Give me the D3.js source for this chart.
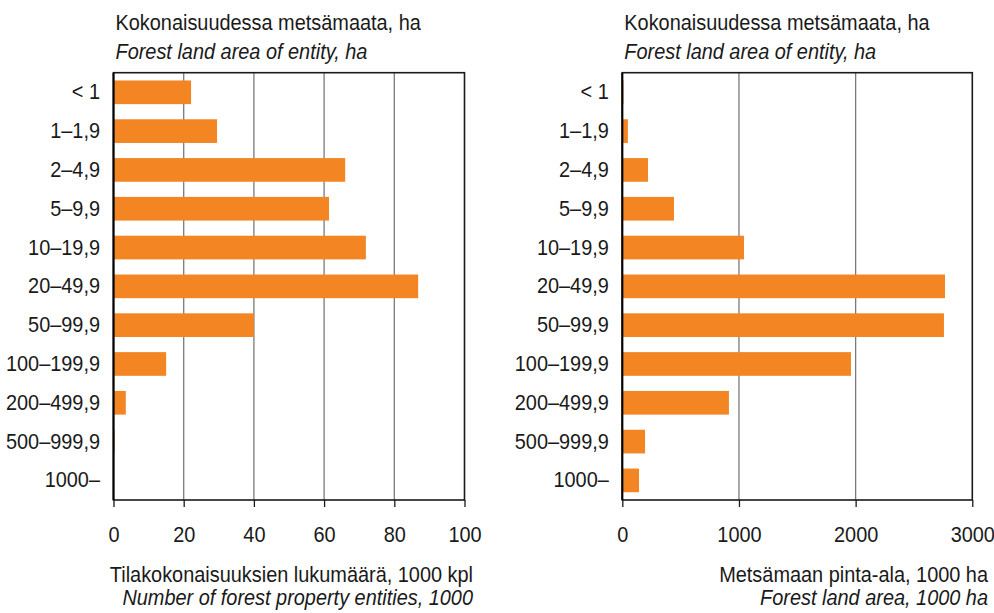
<!DOCTYPE html>
<html>
<head>
<meta charset="utf-8">
<script src="https://cdn.jsdelivr.net/npm/d3@7"></script>
<style>
  body { margin: 0; background: #fff; }
  svg { display: block; }
  text { font-family: "Liberation Sans", Arial, sans-serif; fill: #1a1a1a; }
</style>
</head>
<body>
<div id="chart"></div>
<script>
// Size classes (ha), top to bottom
const classes = ["< 1", "1–1,9", "2–4,9", "5–9,9", "10–19,9", "20–49,9",
                 "50–99,9", "100–199,9", "200–499,9", "500–999,9", "1000–"];

// Number of forest property entities, 1000
const entityCounts = [22.1, 29.5, 66.0, 61.4, 71.9, 86.8, 40.0, 15.0, 3.5, 0.3, 0.08];
// Forest land area, 1000 ha
const forestArea = [10, 48, 220, 443, 1043, 2766, 2757, 1960, 914, 195, 143];

const countTicks = [0, 20, 40, 60, 80, 100];
const areaTicks = [0, 1000, 2000, 3000];

const catTitle = ["Kokonaisuudessa metsämaata, ha", "Forest land area of entity, ha"];
const countTitle = ["Tilakokonaisuuksien lukumäärä, 1000 kpl", "Number of forest property entities, 1000"];
const areaTitle = ["Metsämaan pinta-ala, 1000 ha", "Forest land area, 1000 ha"];

const W = 994, H = 613;
const BAR = "#f38523";
const FS = "22px";   // the original type is a bit taller and narrower than Arial
const SX = 0.905;    // horizontal squeeze to match it

const svg = d3.select("#chart").append("svg")
    .attr("width", W)
    .attr("height", H);

// text placed at (x, y), squeezed horizontally around its anchor
function label(parent, x, y, str, anchor, italic) {
    return parent.append("g")
        .attr("transform", `translate(${x},${y}) scale(${SX},1)`)
        .append("text")
        .attr("text-anchor", anchor || "start")
        .style("font-size", FS)
        .style("font-style", italic ? "italic" : "normal")
        .text(str);
}

function drawPanel(opts) {
    const top = 72.7, bottom = 500;
    const x = d3.scaleLinear()
        .domain([0, opts.ticks[opts.ticks.length - 1]])
        .range([opts.left, opts.right]);
    const y = d3.scaleBand()
        .domain(classes)
        .range([top, bottom])
        .paddingInner(0.39)
        .paddingOuter(0.2);

    const g = svg.append("g");

    // heading above the category labels
    label(g, opts.left + 2, 30, catTitle[0]);
    label(g, opts.left + 2, 59, catTitle[1], "start", true);

    // vertical gridlines
    g.selectAll(".grid")
        .data(opts.ticks.slice(1, -1))
        .join("line")
        .attr("class", "grid")
        .attr("x1", d => x(d)).attr("x2", d => x(d))
        .attr("y1", top).attr("y2", bottom)
        .attr("stroke", "#7a7a7a")
        .attr("stroke-width", 1.3);

    // bars
    g.selectAll(".bar")
        .data(opts.values)
        .join("rect")
        .attr("class", "bar")
        .attr("x", x(0))
        .attr("y", (d, i) => y(classes[i]))
        .attr("width", d => x(d) - x(0))
        .attr("height", y.bandwidth())
        .attr("fill", BAR);

    // frame
    g.append("rect")
        .attr("x", x.range()[0]).attr("y", top)
        .attr("width", x.range()[1] - x.range()[0])
        .attr("height", bottom - top)
        .attr("fill", "none")
        .attr("stroke", "#1a1a1a")
        .attr("stroke-width", 1.6);
    g.append("line")
        .attr("x1", x(0)).attr("x2", x(0))
        .attr("y1", top).attr("y2", bottom)
        .attr("stroke", "#000")
        .attr("stroke-width", 2);

    // category axis
    const yAxis = g.append("g")
        .attr("transform", `translate(${x(0)},0)`)
        .call(d3.axisLeft(y).tickSize(0).tickPadding(13.5 / SX));
    yAxis.select(".domain").remove();
    yAxis.selectAll("text")
        .style("font-size", FS)
        .attr("transform", `scale(${SX},1)`)
        .attr("fill", "#1a1a1a");

    // value axis
    const xAxis = g.append("g")
        .attr("transform", `translate(0,${bottom})`)
        .call(d3.axisBottom(x).tickValues(opts.ticks).tickSize(7).tickPadding(19.5)
            .tickFormat(d3.format("d")));
    xAxis.select(".domain").remove();
    xAxis.selectAll(".tick line").attr("stroke", "#1a1a1a").attr("stroke-width", 1.3);
    xAxis.selectAll("text")
        .style("font-size", FS)
        .attr("transform", `scale(${SX},1)`)
        .attr("fill", "#1a1a1a");

    // value axis title
    label(g, opts.titleRight, 582, opts.title[0], "end");
    label(g, opts.titleRight, 605, opts.title[1], "end", true);
}

drawPanel({ values: entityCounts, ticks: countTicks, left: 113.5, right: 464.5,
            title: countTitle, titleRight: 473 });
drawPanel({ values: forestArea, ticks: areaTicks, left: 622.3, right: 972.3,
            title: areaTitle, titleRight: 988 });
</script>
</body>
</html>
